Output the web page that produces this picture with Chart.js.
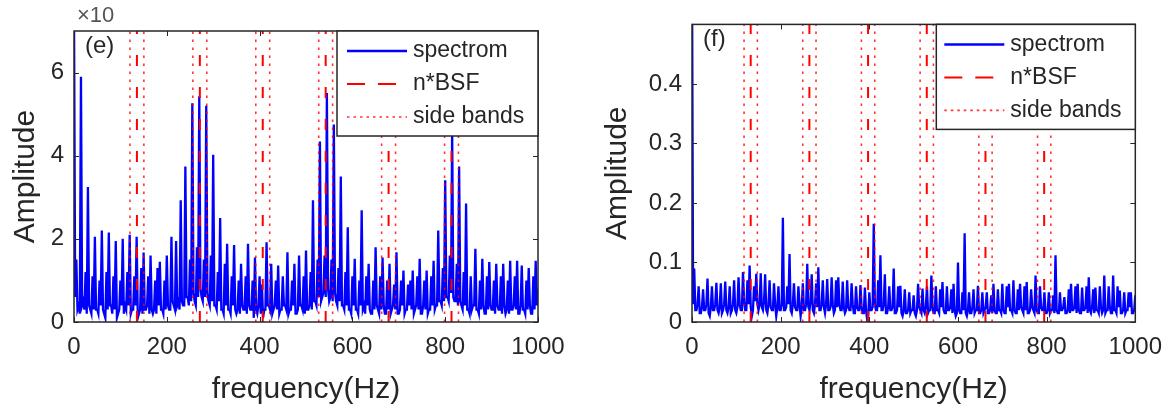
<!DOCTYPE html>
<html>
<head>
<meta charset="utf-8">
<script src="https://cdn.jsdelivr.net/npm/chart.js@4.4.0/dist/chart.umd.min.js"></script>
<style>
  html, body { margin: 0; padding: 0; background: #fff; }
  #wrap { position: relative; width: 1173px; height: 413px; }
  .panel { position: absolute; top: 0; }
  #panelE { left: 0; }
  #panelF { left: 586px; }
</style>
</head>
<body>
<div id="wrap">
  <div class="panel" id="panelE"><canvas id="chartE" width="586" height="413"></canvas></div>
  <div class="panel" id="panelF"><canvas id="chartF" width="587" height="413"></canvas></div>
</div>
<script>
// spectrum: one value every 5 Hz (0..1000 Hz),
// plus the lower envelope halfway between them (2.5, 7.5, ... Hz)
const freqStep = 5;

const spectrumE = [
  7.5, 1.5, 0.4, 5.9, 0.5, 1.2, 3.25, 0.3, 1.1, 2.05,
  0.3, 1.0, 2.2, 0.2, 1.2, 2.15, 0.4, 1.1, 1.95, 0.2,
  1.0, 2.0, 0.4, 1.2, 2.1, 0.3, 1.1, 2.05, 0.2, 1.3,
  1.67, 0.3, 1.1, 1.6, 0.2, 1.0, 1.3, 1.45, 0.3, 1.0,
  1.6, 0.3, 2.05, 0.4, 1.95, 0.5, 2.93, 0.4, 3.74, 0.6,
  1.5, 5.26, 0.5, 1.8, 5.43, 0.6, 1.5, 5.2, 0.5, 1.6,
  4.02, 0.4, 1.2, 2.5, 0.3, 1.4, 1.88, 0.3, 1.1, 1.85,
  0.2, 1.0, 1.4, 0.3, 1.1, 1.88, 0.3, 1.0, 1.55, 0.2,
  1.1, 0.9, 0.3, 1.92, 0.4, 1.4, 0.3, 1.0, 1.36, 0.3,
  1.1, 0.4, 1.68, 0.3, 1.0, 1.4, 0.2, 1.6, 0.4, 1.1,
  1.72, 0.3, 1.2, 2.93, 0.5, 1.5, 4.34, 0.6, 1.6, 5.51,
  0.5, 1.5, 4.75, 0.5, 1.3, 3.5, 0.4, 1.2, 2.28, 0.3,
  1.1, 1.52, 0.3, 1.0, 2.69, 0.4, 1.1, 1.4, 0.2, 1.0,
  1.8, 0.3, 1.1, 1.55, 0.2, 1.0, 1.4, 0.3, 0.9, 1.68,
  0.2, 1.0, 1.24, 0.3, 0.9, 1.0, 1.24, 0.3, 1.1, 1.52,
  0.2, 1.0, 1.24, 0.3, 1.1, 1.47, 0.4, 2.2, 0.5, 1.3,
  3.41, 0.6, 1.6, 4.6, 0.5, 1.4, 3.74, 0.4, 1.2, 2.85,
  0.3, 1.1, 0.4, 1.76, 0.3, 1.0, 1.52, 0.2, 1.1, 1.44,
  0.3, 1.0, 1.4, 0.3, 1.1, 1.4, 0.2, 1.0, 1.47, 0.3,
  1.1, 1.47, 0.2, 1.36, 0.3, 1.0, 1.3, 0.2, 1.1, 1.47,
  0.8
];
const floorE = [
  0.6, 0.3, 0.2, 0.4, 0.3, 0.2, 0.4, 0.2, 0.3, 0.3,
  0.2, 0.4, 0.3, 0.1, 0.3, 0.4, 0.2, 0.3, 0.1, 0.3,
  0.4, 0.2, 0.3, 0.4, 0.2, 0.3, 0.4, 0.1, 0.3, 0.2,
  0.3, 0.4, 0.2, 0.3, 0.3, 0.2, 0.4, 0.3, 0.2, 0.3,
  0.4, 0.3, 0.5, 0.3, 0.4, 0.3, 0.5, 0.4, 0.6, 0.4,
  0.5, 0.7, 0.4, 0.6, 0.8, 0.5, 0.6, 0.7, 0.4, 0.5,
  0.4, 0.3, 0.5, 0.3, 0.2, 0.4, 0.3, 0.2, 0.4, 0.3,
  0.3, 0.2, 0.4, 0.3, 0.2, 0.4, 0.3, 0.1, 0.3, 0.4,
  0.2, 0.1, 0.3, 0.4, 0.3, 0.2, 0.4, 0.3, 0.2, 0.3,
  0.4, 0.3, 0.2, 0.3, 0.4, 0.2, 0.3, 0.4, 0.3, 0.2,
  0.3, 0.4, 0.3, 0.5, 0.4, 0.6, 0.5, 0.7, 0.6, 0.8,
  0.6, 0.5, 0.7, 0.4, 0.5, 0.4, 0.3, 0.4, 0.3, 0.2,
  0.4, 0.3, 0.2, 0.4, 0.3, 0.2, 0.4, 0.3, 0.2, 0.3,
  0.4, 0.2, 0.3, 0.4, 0.2, 0.3, 0.2, 0.4, 0.3, 0.2,
  0.3, 0.4, 0.2, 0.3, 0.4, 0.3, 0.2, 0.4, 0.3, 0.2,
  0.4, 0.3, 0.2, 0.3, 0.4, 0.3, 0.4, 0.5, 0.4, 0.5,
  0.6, 0.5, 0.7, 0.6, 0.5, 0.4, 0.5, 0.3, 0.4, 0.3,
  0.2, 0.3, 0.4, 0.3, 0.2, 0.3, 0.4, 0.2, 0.3, 0.4,
  0.3, 0.2, 0.4, 0.3, 0.2, 0.4, 0.3, 0.2, 0.3, 0.4,
  0.3, 0.2, 0.4, 0.3, 0.2, 0.3, 0.4, 0.2, 0.3, 0.4
];

const spectrumF = [
  0.6, 0.09, 0.02, 0.06, 0.015, 0.055, 0.02, 0.073, 0.01, 0.06,
  0.02, 0.066, 0.015, 0.065, 0.02, 0.068, 0.015, 0.06, 0.02, 0.07,
  0.015, 0.075, 0.02, 0.084, 0.02, 0.07, 0.095, 0.01, 0.06, 0.081,
  0.02, 0.082, 0.02, 0.08, 0.015, 0.07, 0.02, 0.065, 0.01, 0.06,
  0.02, 0.175, 0.02, 0.06, 0.114, 0.015, 0.065, 0.02, 0.06, 0.01,
  0.065, 0.02, 0.098, 0.02, 0.08, 0.015, 0.065, 0.092, 0.02, 0.07,
  0.015, 0.072, 0.02, 0.075, 0.015, 0.07, 0.075, 0.02, 0.068, 0.015,
  0.07, 0.02, 0.065, 0.015, 0.06, 0.02, 0.062, 0.015, 0.058, 0.005,
  0.05, 0.02, 0.165, 0.02, 0.07, 0.112, 0.02, 0.08, 0.015, 0.06,
  0.02, 0.09, 0.015, 0.06, 0.061, 0.01, 0.055, 0.015, 0.05, 0.02,
  0.045, 0.01, 0.064, 0.02, 0.056, 0.015, 0.06, 0.02, 0.078, 0.015,
  0.06, 0.02, 0.055, 0.067, 0.015, 0.06, 0.02, 0.055, 0.064, 0.01,
  0.1, 0.015, 0.05, 0.149, 0.01, 0.05, 0.015, 0.055, 0.02, 0.061,
  0.015, 0.05, 0.02, 0.05, 0.015, 0.045, 0.064, 0.015, 0.055, 0.02,
  0.064, 0.015, 0.06, 0.064, 0.02, 0.07, 0.015, 0.055, 0.064, 0.02,
  0.06, 0.067, 0.015, 0.055, 0.02, 0.078, 0.015, 0.06, 0.02, 0.05,
  0.015, 0.05, 0.02, 0.045, 0.112, 0.015, 0.05, 0.02, 0.042, 0.015,
  0.055, 0.064, 0.02, 0.06, 0.064, 0.015, 0.058, 0.02, 0.06, 0.075,
  0.015, 0.055, 0.058, 0.02, 0.06, 0.015, 0.078, 0.02, 0.06, 0.015,
  0.078, 0.02, 0.06, 0.053, 0.015, 0.05, 0.02, 0.05, 0.05, 0.015,
  0.045
];
const floorF = [
  0.03, 0.02, 0.03, 0.015, 0.025, 0.02, 0.03, 0.015, 0.025, 0.02,
  0.03, 0.02, 0.025, 0.015, 0.03, 0.02, 0.025, 0.015, 0.03, 0.02,
  0.025, 0.03, 0.02, 0.035, 0.02, 0.03, 0.025, 0.02, 0.035, 0.03,
  0.03, 0.025, 0.035, 0.02, 0.03, 0.025, 0.02, 0.03, 0.025, 0.02,
  0.03, 0.02, 0.025, 0.03, 0.02, 0.03, 0.025, 0.02, 0.03, 0.025,
  0.02, 0.03, 0.025, 0.035, 0.02, 0.03, 0.025, 0.02, 0.03, 0.025,
  0.03, 0.02, 0.025, 0.03, 0.02, 0.025, 0.03, 0.02, 0.025, 0.02,
  0.025, 0.02, 0.03, 0.015, 0.025, 0.02, 0.025, 0.015, 0.02, 0.01,
  0.02, 0.025, 0.03, 0.02, 0.025, 0.02, 0.03, 0.015, 0.025, 0.02,
  0.025, 0.015, 0.02, 0.025, 0.015, 0.02, 0.015, 0.02, 0.015, 0.02,
  0.015, 0.02, 0.025, 0.015, 0.02, 0.025, 0.015, 0.02, 0.025, 0.015,
  0.02, 0.015, 0.025, 0.02, 0.015, 0.02, 0.025, 0.015, 0.02, 0.015,
  0.02, 0.015, 0.02, 0.015, 0.02, 0.015, 0.025, 0.015, 0.02, 0.015,
  0.02, 0.015, 0.025, 0.015, 0.02, 0.015, 0.02, 0.015, 0.02, 0.015,
  0.02, 0.015, 0.025, 0.02, 0.015, 0.02, 0.015, 0.02, 0.025, 0.015,
  0.02, 0.015, 0.02, 0.025, 0.015, 0.02, 0.015, 0.025, 0.02, 0.015,
  0.02, 0.015, 0.02, 0.015, 0.02, 0.015, 0.02, 0.025, 0.015, 0.02,
  0.015, 0.02, 0.025, 0.015, 0.02, 0.015, 0.02, 0.025, 0.015, 0.02,
  0.025, 0.015, 0.02, 0.015, 0.025, 0.02, 0.015, 0.02, 0.025, 0.015,
  0.02, 0.015, 0.025, 0.015, 0.02, 0.015, 0.02, 0.025, 0.015, 0.02
];

// harmonics of the ball spin frequency and their side bands (Hz)
const bsfE = [135.6, 271.2, 406.8, 542.4, 678, 813.6];
const sideE = [120.6, 150.6, 256.2, 286.2, 391.8, 421.8, 527.4, 557.4, 663, 693, 798.6, 828.6];
const bsfF = [132.4, 264.8, 397.2, 529.6, 662, 794.4];
const sideF = [117.4, 147.4, 249.8, 279.8, 382.2, 412.2, 514.6, 544.6, 647, 677, 779.4, 809.4];

const xTicks = [0, 200, 400, 600, 800, 1000];
const yTicksE = [0, 2, 4, 6];
const yTicksF = [0, 0.1, 0.2, 0.3, 0.4];
const seriesLabels = ['spectrom', 'n*BSF', 'side bands'];

const FONT = '"Liberation Sans", Arial, Helvetica, sans-serif';
const INK = '#262626';
Chart.defaults.font.family = FONT;
Chart.defaults.color = INK;

// main readings and the floor readings put back in frequency order
function spectrumPoints(values, floors) {
  const pts = [];
  values.forEach((v, i) => {
    pts.push({ x: i * freqStep, y: v });
    if (i < floors.length) pts.push({ x: i * freqStep + freqStep / 2, y: floors[i] });
  });
  return pts;
}

// each frequency becomes one bottom-to-top segment, split by a gap
function verticalLines(freqs, yMax) {
  const pts = [];
  freqs.forEach(f => {
    pts.push({ x: f, y: 0 }, { x: f, y: yMax }, { x: f, y: null });
  });
  return pts;
}

// box round the axes with MATLAB-like inward ticks on all four sides
const framePlugin = {
  id: 'frame',
  afterDatasetsDraw(chart) {
    const { ctx, chartArea: a, scales } = chart;
    const len = 5;
    ctx.save();
    ctx.strokeStyle = INK;
    ctx.lineWidth = 1;
    ctx.beginPath();
    scales.x.ticks.forEach(t => {
      const px = Math.round(scales.x.getPixelForValue(t.value)) + 0.5;
      ctx.moveTo(px, a.bottom); ctx.lineTo(px, a.bottom - len);
      ctx.moveTo(px, a.top); ctx.lineTo(px, a.top + len);
    });
    scales.y.ticks.forEach(t => {
      const py = Math.round(scales.y.getPixelForValue(t.value)) + 0.5;
      ctx.moveTo(a.left, py); ctx.lineTo(a.left + len, py);
      ctx.moveTo(a.right, py); ctx.lineTo(a.right - len, py);
    });
    ctx.stroke();
    ctx.lineWidth = 1.5;
    ctx.strokeRect(a.left, a.top, a.right - a.left, a.bottom - a.top);
    ctx.restore();
  }
};

// legend box in the top right corner, plus the panel letter and exponent
const legendPlugin = {
  id: 'legendBox',
  afterDatasetsDraw(chart, args, o) {
    const { ctx, chartArea: a } = chart;
    const left = a.right - o.width;
    const top = a.top;
    ctx.save();
    ctx.fillStyle = '#fff';
    ctx.fillRect(left, top, o.width, o.height);
    ctx.strokeStyle = INK;
    ctx.lineWidth = 1.5;
    ctx.strokeRect(left, top, o.width, o.height);
    ctx.font = '23px ' + FONT;
    ctx.textBaseline = 'middle';
    chart.data.datasets.forEach((ds, i) => {
      const y = top + o.rows[i];
      ctx.strokeStyle = ds.borderColor;
      ctx.lineWidth = o.widths[i];
      ctx.setLineDash(o.dashes[i]);
      ctx.beginPath();
      ctx.moveTo(left + o.lineFrom, y);
      ctx.lineTo(left + o.lineTo, y);
      ctx.stroke();
      ctx.setLineDash([]);
      ctx.fillStyle = INK;
      ctx.fillText(ds.label, left + o.textX, y);
    });

    ctx.font = '24px ' + FONT;
    ctx.fillStyle = INK;
    ctx.fillText(o.panel, a.left + 11, a.top + 15);
    if (o.exponent) {
      ctx.font = '22px ' + FONT;
      ctx.fillStyle = '#555';
      ctx.fillText(o.exponent, a.left + 3, a.top - 15);
    }
    ctx.restore();
  }
};

function makeChart(id, cfg) {
  const ctx = document.getElementById(id).getContext('2d');
  return new Chart(ctx, {
    type: 'line',
    data: {
      datasets: [
        {
          label: seriesLabels[0],
          data: spectrumPoints(cfg.spectrum, cfg.floor),
          borderColor: '#0000ff',
          borderWidth: 2.3,
          pointRadius: 0,
          tension: 0,
          order: 3
        },
        {
          label: seriesLabels[1],
          data: verticalLines(cfg.bsf, cfg.yMax),
          borderColor: '#ff0000',
          borderWidth: 2,
          borderDash: [11, 21],
          pointRadius: 0,
          spanGaps: false,
          order: 1
        },
        {
          label: seriesLabels[2],
          data: verticalLines(cfg.side, cfg.yMax),
          borderColor: 'rgba(255, 0, 0, 0.8)',
          borderWidth: 1.6,
          borderDash: [2.5, 5.5],
          pointRadius: 0,
          spanGaps: false,
          order: 2
        }
      ]
    },
    options: {
      responsive: false,
      animation: false,
      layout: { padding: { top: cfg.top, right: cfg.right, left: 0, bottom: 0 } },
      plugins: {
        legend: { display: false },
        tooltip: { enabled: false },
        legendBox: {
          width: cfg.legendWidth,
          height: 105,
          rows: [20, 53, 86],
          widths: [2.5, 2, 1.6],
          dashes: [[], [18, 13], [2.5, 4]],
          lineFrom: cfg.lineFrom,
          lineTo: cfg.lineFrom + 60,
          textX: cfg.lineFrom + 66,
          panel: cfg.panel,
          exponent: cfg.exponent
        }
      },
      scales: {
        x: {
          type: 'linear',
          min: 0,
          max: 1000,
          grid: { display: false, drawTicks: false },
          border: { display: false },
          ticks: { font: { size: 24 }, padding: 11, maxRotation: 0, callback: v => String(v) },
          afterBuildTicks: s => { s.ticks = xTicks.map(v => ({ value: v })); },
          afterFit: s => { s.height = 413 - cfg.bottom; },
          title: { display: true, text: 'frequency(Hz)', font: { size: 30 }, padding: { top: 0, bottom: 5 } }
        },
        y: {
          min: 0,
          max: cfg.yMax,
          grid: { display: false, drawTicks: false },
          border: { display: false },
          ticks: { font: { size: 24 }, padding: 10, callback: v => String(v) },
          afterBuildTicks: s => { s.ticks = cfg.yTicks.map(v => ({ value: v })); },
          afterFit: s => { s.width = cfg.left; },
          title: { display: true, text: 'Amplitude', font: { size: 30 }, padding: { top: cfg.titlePad, bottom: 0 } }
        }
      }
    },
    plugins: [framePlugin, legendPlugin]
  });
}

makeChart('chartE', {
  spectrum: spectrumE, floor: floorE, bsf: bsfE, side: sideE, yMax: 7, yTicks: yTicksE,
  left: 74, right: 48, top: 31, bottom: 322, titlePad: 8,
  legendWidth: 201, lineFrom: 10, panel: '(e)', exponent: '\u00d710'
});

makeChart('chartF', {
  spectrum: spectrumF, floor: floorF, bsf: bsfF, side: sideF, yMax: 0.5, yTicks: yTicksF,
  left: 106, right: 32, top: 23, bottom: 322, titlePad: 14,
  legendWidth: 199, lineFrom: 8, panel: '(f)', exponent: ''
});
</script>
</body>
</html>
